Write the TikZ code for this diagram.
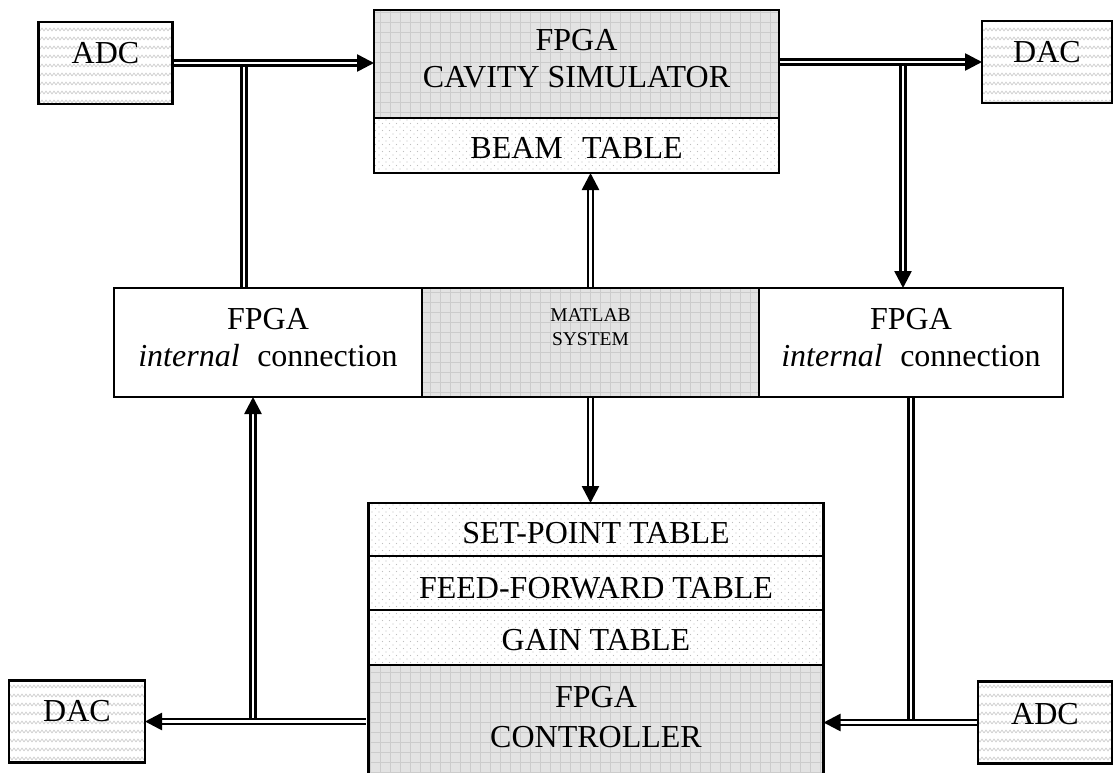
\documentclass[tikz,border=0pt]{standalone}
\usepackage{fontspec}
\setmainfont{Liberation Serif}
\usepackage{tikz}
\usetikzlibrary{arrows.meta, positioning, patterns}

% fill patterns of the boxes
\pgfdeclarepatternformonly{cellgrid}{\pgfqpoint{-0.5pt}{-0.5pt}}{\pgfqpoint{10.5pt}{10.5pt}}{\pgfqpoint{10pt}{10pt}}{
  \pgfsetlinewidth{0.7pt}
  \pgfpathmoveto{\pgfqpoint{0pt}{0pt}}\pgfpathlineto{\pgfqpoint{10.5pt}{0pt}}
  \pgfpathmoveto{\pgfqpoint{0pt}{0pt}}\pgfpathlineto{\pgfqpoint{0pt}{10.5pt}}
  \pgfusepath{stroke}}
\pgfdeclarepatternformonly{tabledots}{\pgfqpoint{-1pt}{-1pt}}{\pgfqpoint{8pt}{8pt}}{\pgfqpoint{7pt}{7pt}}{
  \pgfpathcircle{\pgfqpoint{1pt}{1pt}}{0.7pt}
  \pgfpathcircle{\pgfqpoint{4.5pt}{4.5pt}}{0.7pt}
  \pgfusepath{fill}}
\pgfdeclarepatternformonly{wavy}{\pgfqpoint{-0.5pt}{0pt}}{\pgfqpoint{8.5pt}{9pt}}{\pgfqpoint{8pt}{9pt}}{
  \pgfsetlinewidth{0.8pt}\pgfsetroundjoin
  \pgfpathmoveto{\pgfqpoint{0pt}{3pt}}
  \pgfpathlineto{\pgfqpoint{2pt}{6pt}}
  \pgfpathlineto{\pgfqpoint{4pt}{3pt}}
  \pgfpathlineto{\pgfqpoint{6pt}{6pt}}
  \pgfpathlineto{\pgfqpoint{8pt}{3pt}}
  \pgfusepath{stroke}}

\newcommand{\bigtxt}{\fontsize{32}{37}\selectfont}
\newcommand{\smalltxt}{\fontsize{19.5}{24}\selectfont}

\begin{document}
\begin{tikzpicture}[x=1pt, y=-1pt,
  blk/.style={draw, line width=2.7pt, inner sep=0pt, outer sep=0pt, align=center, font=\bigtxt},
  conv/.style={blk, minimum width=134pt, minimum height=82pt,
               preaction={fill=white}, pattern=wavy, pattern color=gray!35},
  fpga/.style={blk, preaction={fill=gray!22}, pattern=cellgrid, pattern color=gray!40},
  tbl/.style={blk, minimum width=455pt, preaction={fill=white}, pattern=tabledots,
              pattern color=gray!50},
  conn/.style={blk, fill=white, minimum height=109pt},
  txt/.style={font=\bigtxt, align=center, yshift=#1},
  dbl/.style={double, line width=2.6pt, double distance=2.2pt},
  arr/.style={dbl, -{Triangle[length=17pt, width=17pt]}},
]
  \useasboundingbox (0,0) rectangle (1113,772);

  % top row
  \node[conv, label={[txt=10pt]center:ADC}] (adc1) at (105.5,63) {};
  \node[fpga, minimum width=405pt, minimum height=108pt,
        label={[txt=5pt]center:FPGA\\CAVITY SIMULATOR}] (sim) at (576.5,64) {};
  \node[tbl, minimum width=405pt, minimum height=55pt, below=0pt of sim,
        label={[txt=-2pt]center:BEAM\hspace{0.6em}TABLE}] (beam) {};
  \node[conv, minimum width=130pt, label={[txt=10pt]center:DAC}] (dac1) at (1047,62) {};

  % middle row
  \node[conn, minimum width=308pt,
        label={[txt=5pt]center:FPGA\\\textit{internal}\hspace{0.55em}connection}]
        (intl) at (268,342.5) {};
  \node[fpga, minimum width=337pt, minimum height=109pt, right=0pt of intl,
        label={[font=\smalltxt, align=center, yshift=15pt]center:MATLAB\\SYSTEM}] (matlab) {};
  \node[conn, minimum width=304pt, right=0pt of matlab,
        label={[txt=5pt]center:FPGA\\\textit{internal}\hspace{0.55em}connection}] (intr) {};

  % bottom stack
  \node[tbl, minimum height=53pt, label={[txt=-4pt]center:SET-POINT TABLE}] (setp) at (596,529.5) {};
  \node[tbl, minimum height=54pt, below=0pt of setp,
        label={[txt=-5pt]center:FEED-FORWARD TABLE}] (ffwd) {};
  \node[tbl, minimum height=55pt, below=0pt of ffwd,
        label={[txt=-3pt]center:GAIN TABLE}] (gain) {};
  \node[fpga, minimum width=455pt, minimum height=110pt, below=0pt of gain,
        label={[txt=3pt, font=\fontsize{32}{40}\selectfont]center:FPGA\\CONTROLLER}] (ctrl) {};
  \node[conv, minimum width=136pt, label={[txt=10pt]center:DAC}] (dac2) at (77,721.5) {};
  \node[conv, label={[txt=8pt]center:ADC}] (adc2) at (1045,722.5) {};

  % tee points on the double lines
  \coordinate (ta) at (244,66.7);
  \coordinate (tb) at (903,65.7);
  \coordinate (tc) at (253,717.8);
  \coordinate (td) at (911,718.8);

  \draw[arr, shorten <=1.35pt] (adc1.east) -- (adc1.east -| sim.west);
  \draw[arr, shorten <=1.35pt] (sim.east |- dac1) -- (dac1.west);
  \draw[arr, shorten <=1.35pt] (matlab.north) -- (matlab.north |- beam.south);
  \draw[arr, shorten <=1.35pt] (matlab.south) -- (matlab.south |- setp.north);
  \draw[arr, shorten <=1.35pt] (adc2.west) -- (adc2.west -| ctrl.east);
  \draw[arr, shorten <=3pt] (ctrl.west |- dac2) -- (dac2.east);

  \draw[dbl, shorten >=1.35pt] (ta) -- (ta |- intl.north);
  \draw[arr] (tb) -- (tb |- intr.north);
  \draw[arr] (tc) -- (tc |- intl.south);
  \draw[dbl, shorten <=1.35pt] (intr.south) -- (intr.south |- td);
\end{tikzpicture}
\end{document}
